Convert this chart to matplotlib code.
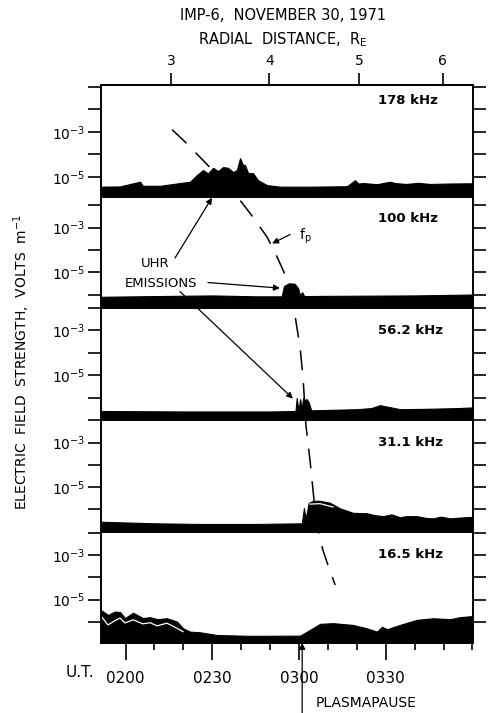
import matplotlib
matplotlib.use("Agg")
import matplotlib.pyplot as plt
import numpy as np

# time axis is U.T. in minutes after 0000
ut_ticks = [120, 150, 180, 210]
ut_labels = ["0200", "0230", "0300", "0330"]
radial_distance = [3, 4, 5, 6]
ut_at_radius = [135.7, 169.7, 200.9, 229.7]
freq_labels = ["178 kHz", "100 kHz", "56.2 kHz", "31.1 kHz", "16.5 kHz"]

# log10 of field strength (V/m)
ut_178 = [111.5, 118, 125.0, 126, 132, 138.8, 142.3, 144.7, 146.8, 148.5, 150.3, 152, 153.7,
          155.4, 157.2, 158.5, 159.6, 160.5, 161.3, 162.4, 164.1, 165.8, 168.9, 173.4, 185,
          196.6, 199.4, 200.5, 202.2, 207, 211.5, 213.2, 217, 221.2, 225.3, 232, 240.2]
e_178 = [-5.44, -5.43, -5.22, -5.40, -5.40, -5.28, -5.22, -4.92, -4.70, -4.85, -4.60, -4.75, -4.57,
         -4.60, -4.79, -4.70, -4.17, -4.45, -4.48, -4.84, -4.84, -5.15, -5.37, -5.44, -5.44,
         -5.42, -5.15, -5.30, -5.28, -5.33, -5.22, -5.28, -5.32, -5.27, -5.32, -5.30, -5.29]

ut_100 = [111.5, 130, 150, 165, 174.0, 174.8, 176.5, 178.5, 179.7, 180.3, 181.1, 181.8,
          190, 205, 220, 240.2]
e_100 = [-6.08, -6.05, -6.02, -6.06, -6.06, -5.60, -5.48, -5.50, -5.70, -6.0, -5.88, -6.05,
         -6.04, -6.03, -6.02, -5.98]

ut_56 = [111.5, 140, 170, 178.8, 179.2, 179.8, 180.4, 181.0, 181.4, 182.0, 182.6, 183.4,
         184.2, 200, 205, 208, 215, 225, 235, 240.2]
e_56 = [-6.58, -6.6, -6.6, -6.58, -6.0, -6.55, -6.05, -6.5, -6.0, -6.1, -6.05, -6.2,
        -6.55, -6.5, -6.45, -6.32, -6.5, -6.48, -6.45, -6.42]

ut_31 = [111.5, 130, 145.8, 165, 181.0, 181.7, 182.2, 182.8, 183.3, 184.9, 187.3, 190.7,
         194.2, 198.7, 203.5, 206, 209.1, 212, 214.9, 217, 220.8, 224, 226.4, 229, 232.3,
         236, 240.2]
e_31 = [-6.55, -6.62, -6.65, -6.65, -6.62, -5.94, -6.40, -6.1, -5.71, -5.61, -5.61, -5.70,
        -5.95, -6.15, -6.17, -6.25, -6.30, -6.22, -6.35, -6.30, -6.30, -6.38, -6.40, -6.32,
        -6.40, -6.36, -6.33]
ut_31_inner = [183.8, 187.3, 191.8]
e_31_inner = [-5.76, -5.74, -5.89]

ut_16 = [111.5, 113.9, 116.3, 118.1, 119.8, 122.6, 126.0, 128.5, 130.9, 134.3, 137.8, 139.9,
         142.3, 145.8, 151.6, 163.1, 180.4, 183.8, 187.3, 191.8, 198.7, 203.5, 207.0, 208.7,
         210.5, 214.9, 220.8, 226.4, 232.3, 235.7, 240.2]
e_16 = [-5.47, -5.69, -5.54, -5.56, -5.83, -5.59, -5.83, -5.79, -5.88, -5.84, -5.99, -6.29,
        -6.44, -6.47, -6.59, -6.63, -6.62, -6.36, -6.09, -6.06, -6.14, -6.29, -6.44, -6.22,
        -6.33, -6.14, -5.91, -5.84, -5.88, -5.79, -5.74]
ut_16_inner = [111.7, 113.9, 116.3, 118.1, 119.8, 122.6, 126.0, 128.5, 130.9, 134.3, 137.8, 139.9]
e_16_inner = [-5.77, -6.14, -5.95, -5.83, -6.05, -5.91, -6.09, -6.04, -6.18, -6.06, -6.29, -6.44]

# plasma frequency curve, drawn across the stack (panel units from the bottom)
fp_ut = [136.1, 140.6, 148.5, 158.9, 163.1, 168.9, 171.7, 175.2, 176.9, 178.6, 180.4, 181.4,
         182.4, 183.8, 185.2, 186.6, 188.3, 190.0, 192.5]
fp_level = [4.60, 4.49, 4.28, 3.99, 3.85, 3.64, 3.50, 3.30, 3.13, 2.94, 2.64, 2.38,
            1.95, 1.64, 1.28, 1.01, 0.83, 0.70, 0.52]
plasmapause_ut = 181.1

series = [(ut_178, e_178), (ut_100, e_100), (ut_56, e_56), (ut_31, e_31), (ut_16, e_16)]
ylims = [(-5.90, -0.92), (-6.58, -1.64), (-6.98, -2.0), (-7.01, -1.99), (-6.95, -1.97)]

W, H = 488, 713
fig = plt.figure(figsize=(W / 100, H / 100), dpi=100)
edges = [85, 197, 308, 420, 532, 643]
x0, x1 = 101, 473
t_min, t_max = 111.5, 240.2

axes = []
for i in range(5):
    top, bot = edges[i], edges[i + 1]
    ax = fig.add_axes([x0 / W, 1 - bot / H, (x1 - x0) / W, (bot - top) / H])
    ut, e = series[i]
    lo, hi = ylims[i]
    ax.fill_between(ut, 10 ** lo, 10 ** np.array(e), color="black", lw=0.8, edgecolor="black")
    ax.set_yscale("log")
    ax.set_ylim(10 ** lo, 10 ** hi)
    ax.set_xlim(t_min, t_max)
    decs = [d for d in range(-1, -7, -1) if lo <= d <= hi + 0.05]
    ax.set_yticks([10.0 ** d for d in decs])
    ax.set_yticklabels(["$10^{%d}$" % d if d in (-3, -5) else "" for d in decs], fontsize=10)
    ax.minorticks_off()
    ax.tick_params(axis="y", which="major", direction="out", length=9.5, width=1.2,
                   right=True, pad=2)
    off = 15 if i == 0 else 22
    ax.text(t_min + (378 - x0) / 2.89, 1 - off / (bot - top), freq_labels[i],
            transform=ax.get_xaxis_transform(), fontsize=9.5, fontweight="bold",
            va="center", ha="left")
    for s in ax.spines.values():
        s.set_linewidth(1.4)
    axes.append(ax)

axes[3].plot(ut_31_inner, 10 ** np.array(e_31_inner), color="white", lw=0.9)
axes[4].plot(ut_16_inner, 10 ** np.array(e_16_inner), color="white", lw=0.9)

for ax in axes[:-1]:
    ax.tick_params(axis="x", which="both", bottom=False, labelbottom=False)

ax5 = axes[-1]
ax5.set_xticks(ut_ticks)
ax5.set_xticklabels(ut_labels, fontsize=11)
ax5.set_xticks(np.arange(120, 241, 10), minor=True)
ax5.tick_params(axis="x", which="major", direction="out", length=12, width=1.2, pad=8)
ax5.tick_params(axis="x", which="minor", direction="out", length=5, width=1.2)
ax5.text(-0.095, -0.265, "U.T.", transform=ax5.transAxes, fontsize=11, ha="left", va="center")

top = axes[0].secondary_xaxis("top")
top.set_xticks(ut_at_radius)
top.set_xticklabels([str(r) for r in radial_distance], fontsize=10)
top.tick_params(direction="out", length=9, width=1.2, pad=3)
top.spines["top"].set_linewidth(1.4)

fig.text(283 / W, 1 - 15 / H, "IMP-6,  NOVEMBER 30, 1971", fontsize=10.5, ha="center", va="center")
fig.text(283 / W, 1 - 40 / H, "RADIAL  DISTANCE,  R$_\\mathregular{E}$", fontsize=10.5,
         ha="center", va="center")
fig.text(22 / W, 1 - 362 / H, "ELECTRIC  FIELD  STRENGTH,  VOLTS  m$^{-1}$", fontsize=10,
         rotation=90, ha="center", va="center")

# overlay for the f_p curve and annotations spanning the panels
ov = fig.add_axes([x0 / W, 1 - edges[-1] / H, (x1 - x0) / W, (edges[-1] - edges[0]) / H])
ov.set_xlim(t_min, t_max)
ov.set_ylim(0, 5)
ov.axis("off")
ov.patch.set_alpha(0)
ov.plot(fp_ut, fp_level, color="black", lw=1.1, linestyle=(0, (13, 8.5)))

arr = dict(arrowstyle="-|>", color="black", lw=0.9, mutation_scale=9, shrinkA=0, shrinkB=0)
ov.annotate("", xy=(149.9, 3.99), xytext=(137.1, 3.45), arrowprops=arr)
ov.text(130.2, 3.40, "UHR", fontsize=9.5, ha="center", va="center")
ov.text(132.3, 3.22, "EMISSIONS", fontsize=9.5, ha="center", va="center")
ov.annotate("", xy=(173.4, 3.18), xytext=(148.5, 3.23), arrowprops=arr)
ov.annotate("", xy=(177.9, 2.19), xytext=(138.8, 3.15), arrowprops=arr)
ov.annotate("", xy=(170.7, 3.58), xytext=(176.9, 3.66), arrowprops=arr)
ov.text(182.1, 3.64, "f$_\\mathregular{p}$", fontsize=10, ha="center", va="center")

ov.annotate("", xy=(plasmapause_ut, 0), xytext=(plasmapause_ut, -0.63), arrowprops=arr,
            annotation_clip=False)
ov.text(plasmapause_ut + 4.5, -0.54, "PLASMAPAUSE", fontsize=10, ha="left", va="center",
        clip_on=False)

fig.savefig("out.png", dpi=100)
